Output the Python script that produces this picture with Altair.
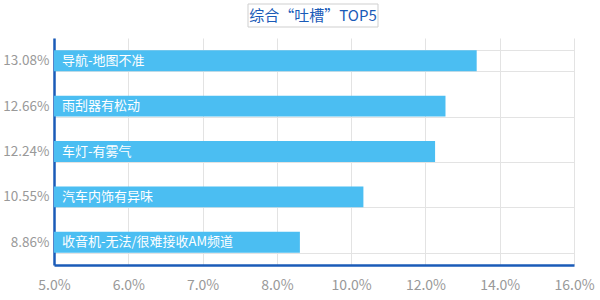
import altair as alt
import pandas as pd

# ---- data ----
pct_labels = ["13.08%", "12.66%", "12.24%", "10.55%", "8.86%"]
items = ["导航-地图不准", "雨刮器有松动", "车灯-有雾气", "汽车内饰有异味", "收音机-无法/很难接收AM频道"]
bar_values = [13.38, 12.54, 12.26, 10.33, 8.62]
tick_values = [5, 6, 7, 8, 10, 12, 14, 16]
title_text = "综合“吐槽”TOP5"

df = pd.DataFrame({"pct": pct_labels, "item": items, "value": bar_values,
                   "start": [tick_values[0]] * len(bar_values)})

W, H = 520, 227
FONT = "Noto Sans CJK SC"
BLUE = "#1a5bb8"
BAR = "#4bbef2"

xscale = alt.Scale(domain=tick_values,
                   range=[i * W / (len(tick_values) - 1) for i in range(len(tick_values))],
                   zero=False, nice=False)
yscale = alt.Scale(paddingInner=0.54, paddingOuter=0.27)

base = alt.Chart(df)

bars = base.mark_bar(color=BAR).encode(
    x=alt.X("start:Q", scale=xscale,
            axis=alt.Axis(values=tick_values, labelExpr="format(datum.value, '.1f') + '%'",
                          title=None, grid=True, gridColor="#e3e3e3", ticks=False,
                          domainColor=BLUE, domainWidth=2.5, labelColor="#999999",
                          labelFontSize=14, labelFont=FONT, labelPadding=13,
                          labelFlush=False, labelOverlap=False)),
    x2="value:Q",
    y=alt.Y("pct:N", sort=pct_labels, scale=yscale,
            axis=alt.Axis(title=None, tickBand="extent", grid=True, gridColor="#e3e3e3",
                          ticks=False, domainColor=BLUE, domainWidth=2.5,
                          labelColor="#999999", labelFontSize=13.5, labelFont=FONT,
                          labelPadding=5)),
)

labels = base.mark_text(align="left", baseline="middle", dx=8, color="white",
                        fontSize=13, font=FONT).encode(
    x=alt.X("start:Q", scale=xscale),
    y=alt.Y("pct:N", sort=pct_labels, scale=yscale),
    text="item:N",
)

one = alt.Data(values=[{"k": 1}])
box = alt.Chart(one).mark_rect(fill="white", stroke="#cfcfcf", strokeWidth=1).encode(
    x=alt.value(194), x2=alt.value(324), y=alt.value(-34), y2=alt.value(-11))
title = alt.Chart(one).mark_text(text=title_text, color=BLUE, fontSize=15, font=FONT,
                                 align="center", baseline="middle").encode(
    x=alt.value(259), y=alt.value(-22))

chart = alt.layer(bars, labels, box, title).properties(
    width=W, height=H,
    autosize=alt.AutoSizeParams(type="none"),
    padding={"left": 54, "top": 38, "right": 26, "bottom": 35},
    background="white",
).configure_view(stroke=None)

chart.save("out.html", embed_options={"renderer": "svg", "actions": False})
